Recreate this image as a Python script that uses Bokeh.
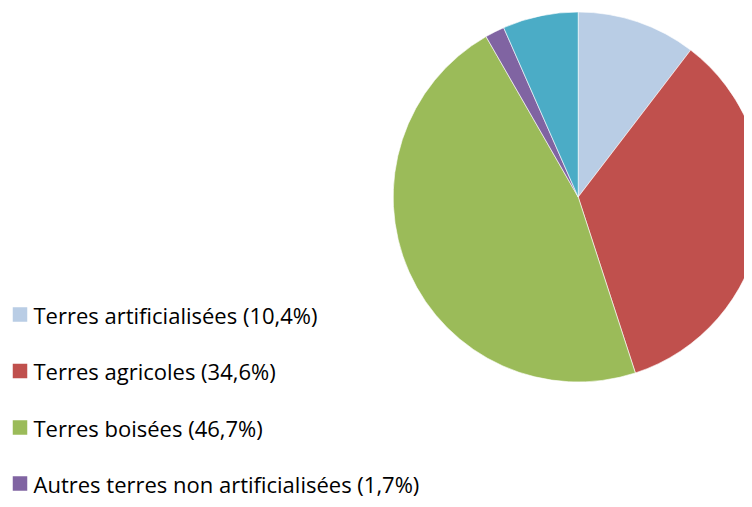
import numpy as np
import pandas as pd
from bokeh.plotting import figure
from bokeh.models import Range1d, ColumnDataSource
from bokeh.core.properties import value
from bokeh.embed import file_html
from bokeh.resources import INLINE

categories = ["Terres artificialisées", "Terres agricoles", "Terres boisées",
              "Autres terres non artificialisées", "Autres"]
shares = [10.4, 34.6, 46.7, 1.7, 6.6]
colors = ["#B9CDE5", "#C0504D", "#9BBB59", "#8064A2", "#4BACC6"]
legend_count = 4  # only the first four legend rows are visible

W, H = 744, 499
p = figure(width=W, height=H, output_backend="svg", toolbar_location=None,
           x_range=Range1d(0, W), y_range=Range1d(0, H), min_border=0)
p.axis.visible = False
p.grid.visible = False
p.outline_line_color = None
p.background_fill_color = "white"
p.border_fill_color = "white"

df = pd.DataFrame({"cat": categories, "share": shares, "color": colors})
frac = df["share"] / df["share"].sum()
ends = np.cumsum(frac) * 2 * np.pi
starts = ends - frac * 2 * np.pi
df["start"] = np.pi / 2 - starts
df["end"] = np.pi / 2 - ends

cx, cy_top, r = 577.7, 196.5, 185.0
cy = H - cy_top
src = ColumnDataSource(df)
p.wedge(x=cx, y=cy, radius=r, start_angle="start", end_angle="end",
        direction="clock", fill_color="color", line_color="white",
        line_width=0.6, source=src)

# legend
row_centers = [314.0, 370.5, 427.0, 483.0]
leg = df.iloc[:legend_count].copy()
leg["label"] = [f"{c} ({s:.1f}%)".replace(".", ",") for c, s in zip(leg["cat"], leg["share"])]
leg["y"] = [H - t for t in row_centers]
leg["sx"] = 19.5
leg["tx"] = 33.0
lsrc = ColumnDataSource(leg)
p.rect(x="sx", y="y", width=14.5, height=14.5, fill_color="color", line_color=None, source=lsrc)
p.text(x="tx", y="y", text="label", text_baseline="middle", text_align="left",
       text_font=value("Open Sans"), text_font_size="22px", text_color="#000000", source=lsrc)

open("out.html", "w").write(file_html(p, INLINE))
